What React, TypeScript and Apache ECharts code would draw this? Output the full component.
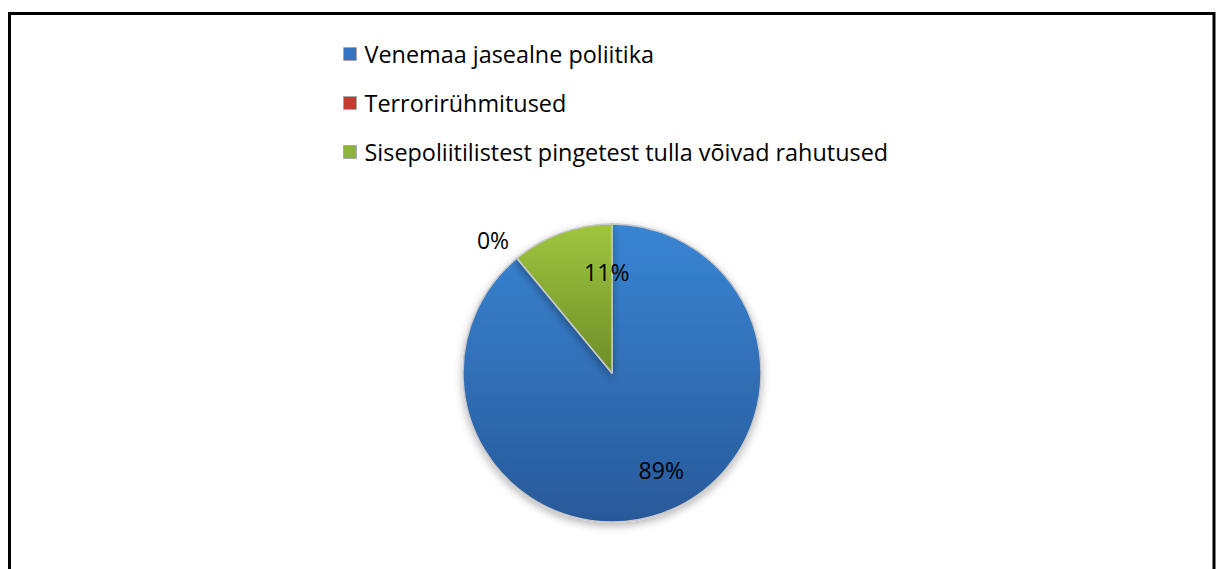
import React, { useEffect, useRef } from "react";
import * as echarts from "echarts";

const categories = [
  "Venemaa jasealne poliitika",
  "Terrorirühmitused",
  "Sisepoliitilistest pingetest tulla võivad rahutused",
];
const values = [89, 0, 11];
const topColors = ["#3985d3", "#d0463c", "#a0c53e"];
const bottomColors = ["#28599a", "#a2312a", "#6c8e27"];
const legendColors = ["#3373c0", "#c23a30", "#8db53c"];
const labelOffsets = [
  [23, 24],
  [6, -7],
  [21, -28],
];

export default function App() {
  const ref = useRef<HTMLDivElement>(null);
  useEffect(() => {
    if (!ref.current) return;
    const chart = echarts.init(ref.current, undefined, { renderer: "svg" });
    const font = "'Open Sans', 'Noto Sans', sans-serif";
    chart.setOption({
      animation: false,
      backgroundColor: "#ffffff",
      color: legendColors,
      graphic: [
        {
          type: "polyline",
          shape: {
            points: [
              [9.5, 600],
              [9.5, 13.5],
              [1214, 13.5],
              [1214, 600],
            ],
          },
          style: { stroke: "#000", lineWidth: 3, fill: null },
          silent: true,
        },
      ],
      legend: {
        orient: "vertical",
        left: 338,
        top: 36,
        icon: "rect",
        itemWidth: 13,
        itemHeight: 13,
        itemGap: 23,
        selectedMode: false,
        itemStyle: { borderColor: "#a8a8a8", borderWidth: 1 },
        textStyle: {
          fontFamily: font,
          fontSize: 23.4,
          lineHeight: 26,
          color: "#000",
          padding: [0, 0, 0, 3],
        },
        data: categories.map((c, i) => ({
          name: c,
          itemStyle: { color: legendColors[i] },
        })),
      },
      series: [
        {
          type: "pie",
          center: [612, 373],
          radius: 149,
          startAngle: 90,
          clockwise: true,
          avoidLabelOverlap: false,
          label: {
            formatter: "{d}%",
            fontFamily: font,
            fontSize: 23,
            color: "#000",
          },
          labelLine: { show: false, length: 14, length2: 0 },
          labelLayout: (params: any) => {
            const o = labelOffsets[params.dataIndex] || [0, 0];
            return { dx: o[0], dy: o[1] };
          },
          itemStyle: {
            borderColor: "#c8c8c8",
            borderWidth: 1.5,
            shadowBlur: 8,
            shadowOffsetY: 3,
            shadowColor: "rgba(0,0,0,0.3)",
          },
          emphasis: { disabled: true },
          data: categories.map((c, i) => ({
            name: c,
            value: values[i],
            label: { position: values[i] === 0 ? "outside" : "inside" },
            itemStyle: {
              color: {
                type: "linear",
                x: 0,
                y: 0,
                x2: 0,
                y2: 1,
                colorStops: [
                  { offset: 0, color: topColors[i] },
                  { offset: 1, color: bottomColors[i] },
                ],
              },
            },
          })),
        },
      ],
    });
    return () => chart.dispose();
  }, []);
  return (
    <div
      ref={ref}
      style={{ position: "absolute", left: 0, top: 0, width: 1221, height: 569 }}
    />
  );
}
